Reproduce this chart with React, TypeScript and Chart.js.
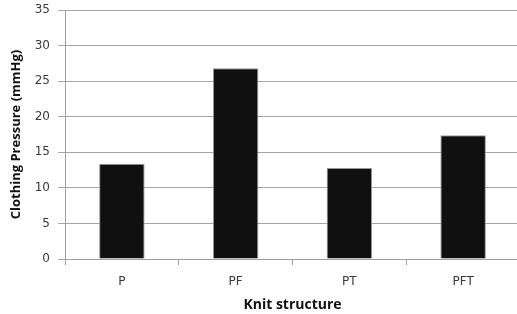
import React, { useEffect, useRef } from "react";
import { Chart, registerables } from "chart.js";

Chart.register(...registerables);

const categories = ["P", "PF", "PT", "PFT"];
const pressureValues = [13.4, 26.8, 12.8, 17.4];
const yTickMin = 0;
const yTickMax = 35;
const yTickStep = 5;

export default function App() {
  const canvasRef = useRef<HTMLCanvasElement | null>(null);

  useEffect(() => {
    document.body.style.margin = "0";
    document.body.style.overflow = "hidden";
    const canvas = canvasRef.current;
    if (!canvas) return;
    const chart = new Chart(canvas, {
      type: "bar",
      data: {
        labels: categories,
        datasets: [
          {
            data: pressureValues,
            backgroundColor: "#101010",
            borderColor: "#9a9a9a",
            borderWidth: 1,
            categoryPercentage: 1,
            barPercentage: 0.4,
          },
        ],
      },
      options: {
        animation: false,
        responsive: false,
        maintainAspectRatio: false,
        layout: { padding: { top: 10, right: 0, bottom: 0, left: 0 } },
        plugins: { legend: { display: false }, tooltip: { enabled: false } },
        scales: {
          x: {
            afterFit: (s: any) => {
              s.height = 55;
              s.paddingLeft = 0;
              s.paddingRight = 0;
            },
            grid: {
              display: true,
              drawOnChartArea: false,
              drawTicks: true,
              tickLength: 6,
              color: "#a0a0a0",
              offset: true,
            },
            border: { display: true, color: "#a0a0a0" },
            ticks: {
              color: "#3a3a3a",
              font: { family: "DejaVu Sans", size: 12 },
              padding: 10,
            },
            title: {
              display: true,
              text: "Knit structure",
              color: "#111",
              font: { family: "Open Sans", size: 14, weight: "bold" },
              padding: { top: 0, bottom: 1 },
            },
          },
          y: {
            min: yTickMin,
            max: yTickMax,
            afterFit: (s: any) => {
              s.width = 65;
              s.paddingTop = 0;
              s.paddingBottom = 0;
            },
            grid: {
              color: "#a6a6a6",
              drawTicks: true,
              tickLength: 7,
            },
            border: { display: true, color: "#a0a0a0" },
            ticks: {
              stepSize: yTickStep,
              color: "#3a3a3a",
              font: { family: "DejaVu Sans", size: 12 },
              padding: 8,
            },
            title: {
              display: true,
              text: "Clothing Pressure (mmHg)",
              color: "#111",
              font: { family: "Open Sans", size: 13, weight: "bold" },
              padding: { top: 8, bottom: 0 },
            },
          },
        },
      },
    });
    return () => chart.destroy();
  }, []);

  return (
    <div style={{ position: "fixed", left: 0, top: 0, width: 520, height: 314 }}>
      <canvas ref={canvasRef} width={520} height={314} style={{ width: 520, height: 314, display: "block" }} />
    </div>
  );
}
